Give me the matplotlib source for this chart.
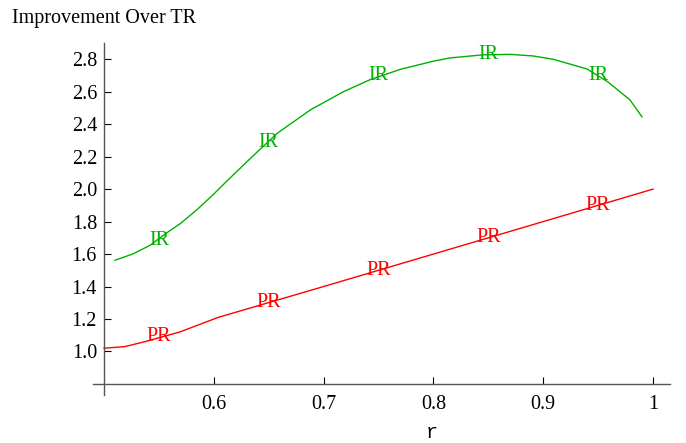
"""
Improvement over TR for the IR and PR schemes as a function of r
"""
import matplotlib

matplotlib.use("Agg")
import matplotlib.pyplot as plt  # type: ignore

# values
r_ir = [0.510, 0.526, 0.542, 0.557, 0.570, 0.585, 0.600, 0.612, 0.635,
        0.658, 0.688, 0.718, 0.742, 0.770, 0.800, 0.815, 0.845, 0.870,
        0.891, 0.909, 0.940, 0.959, 0.979, 0.990]
ir_values = [1.562, 1.600, 1.654, 1.730, 1.790, 1.875, 1.970, 2.050, 2.200,
             2.345, 2.488, 2.600, 2.673, 2.738, 2.788, 2.808, 2.827, 2.830,
             2.820, 2.800, 2.740, 2.660, 2.550, 2.445]

r_pr = [0.500, 0.519, 0.537, 0.569, 0.604, 0.70, 0.80, 0.90, 1.00]
pr_values = [1.020, 1.030, 1.060, 1.120, 1.210, 1.40, 1.60, 1.80, 2.00]

label_r = [0.55, 0.65, 0.75, 0.85, 0.95]
ir_label_y = [1.685, 2.29, 2.70, 2.827, 2.70]
pr_label_y = [1.09, 1.30, 1.50, 1.70, 1.90]

x_ticks = [0.6, 0.7, 0.8, 0.9, 1.0]
x_tick_labels = ["0.6", "0.7", "0.8", "0.9", "1"]
y_ticks = [1.0, 1.2, 1.4, 1.6, 1.8, 2.0, 2.2, 2.4, 2.6, 2.8]

GREEN = "#00b000"
RED = "#ff0000"
SERIF = "Liberation Serif"
FS = 14.5

fig = plt.figure(figsize=(6.86, 4.43), dpi=100)
ax = fig.add_axes([93 / 686, 48 / 443, 577 / 686, 352 / 443])

ax.plot(r_ir, ir_values, color=GREEN, lw=1.0)
ax.plot(r_pr, pr_values, color=RED, lw=1.0)
for x, y in zip(label_r, ir_label_y):
    ax.text(x, y, "IR", color=GREEN, family=SERIF, fontsize=FS,
            ha="center", va="center")
for x, y in zip(label_r, pr_label_y):
    ax.text(x, y, "PR", color=RED, family=SERIF, fontsize=FS,
            ha="center", va="center")

ax.set_xlim(0.49, 1.0155)
ax.set_ylim(0.732, 2.90)
ax.spines["left"].set_position(("data", 0.5))
ax.spines["bottom"].set_position(("data", 0.8))
ax.spines["top"].set_visible(False)
ax.spines["right"].set_visible(False)
for side in ["left", "bottom"]:
    ax.spines[side].set_color("#555555")
    ax.spines[side].set_linewidth(1.0)

ax.set_xticks(x_ticks)
ax.set_xticklabels(x_tick_labels)
ax.set_yticks(y_ticks)
ax.set_yticklabels([f"{v:.1f}" for v in y_ticks])
ax.tick_params(direction="in", length=5, width=0.8, color="black",
               labelsize=FS)
ax.tick_params(axis="x", pad=8)
ax.tick_params(axis="y", pad=5)
for lab in ax.get_xticklabels() + ax.get_yticklabels():
    lab.set_family(SERIF)

fig.text(12 / 686, 1 - 18 / 443, "Improvement Over TR", family=SERIF,
         fontsize=FS, ha="left", va="center")
fig.text(432 / 686, 1 - 433 / 443, "r", family="Liberation Mono",
         fontsize=FS, ha="center", va="center")

fig.savefig("out.png", dpi=100)
